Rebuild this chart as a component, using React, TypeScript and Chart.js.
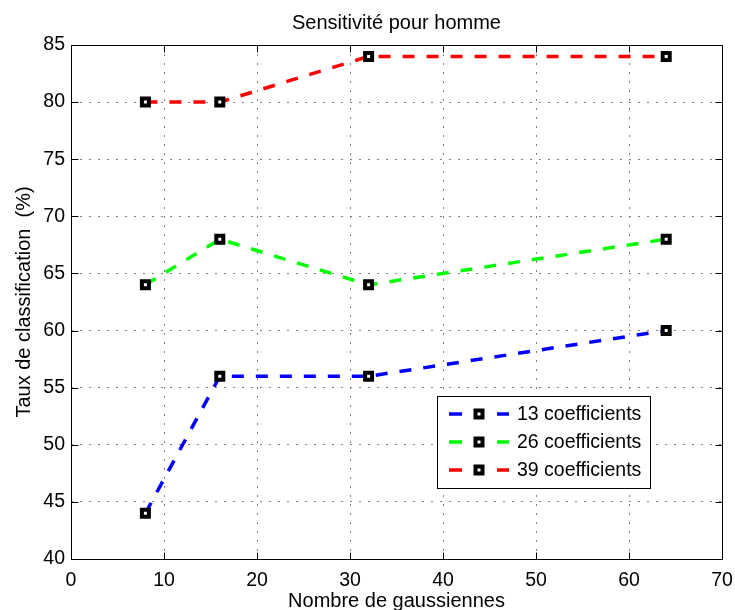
import React, { useEffect, useRef } from "react";
import { Chart, registerables } from "chart.js";

Chart.register(...registerables);

const gaussiennes = [8, 16, 32, 64];
const coef13 = [44, 56, 56, 60];
const coef26 = [64, 68, 64, 68];
const coef39 = [80, 80, 84, 84];
const seriesLabels = ["13 coefficients", "26 coefficients", "39 coefficients"];
const seriesColors = ["#0000ff", "#00ff00", "#ff0000"];
const xTickValues = [0, 10, 20, 30, 40, 50, 60, 70];
const yTickValues = [40, 45, 50, 55, 60, 65, 70, 75, 80, 85];
const chartTitle = "Sensitivité pour homme";
const xTitle = "Nombre de gaussiennes";
const yTitle = "Taux de classification  (%)";

const FONT = '"Liberation Sans", Arial, Helvetica, sans-serif';

function drawMarker(ctx: CanvasRenderingContext2D, x: number, y: number) {
  ctx.save();
  ctx.setLineDash([]);
  ctx.fillStyle = "#ffffff";
  ctx.fillRect(x - 3.5, y - 3.5, 7, 7);
  ctx.strokeStyle = "#000000";
  ctx.lineWidth = 4;
  ctx.strokeRect(x - 3.5, y - 3.5, 7, 7);
  ctx.restore();
}

const matlabPlugin = {
  id: "matlabFrame",
  beforeDraw(chart: any) {
    const ctx = chart.ctx;
    ctx.save();
    ctx.fillStyle = "#ffffff";
    ctx.fillRect(0, 0, chart.width, chart.height);
    ctx.restore();
  },
  afterDraw(chart: any) {
    const ctx: CanvasRenderingContext2D = chart.ctx;
    const { left, right, top, bottom } = chart.chartArea;
    const xs = chart.scales.x;
    const ys = chart.scales.y;
    const L = Math.round(left) + 0.5;
    const R = Math.round(right) + 0.5;
    const T = Math.round(top) + 0.5;
    const B = Math.round(bottom) + 0.5;
    ctx.save();
    ctx.setLineDash([]);
    ctx.strokeStyle = "#000000";
    ctx.lineWidth = 1;
    ctx.strokeRect(L, T, R - L, B - T);
    // inward ticks
    ctx.beginPath();
    xTickValues.forEach((v) => {
      const px = Math.round(xs.getPixelForValue(v)) + 0.5;
      ctx.moveTo(px, B);
      ctx.lineTo(px, B - 7);
      ctx.moveTo(px, T);
      ctx.lineTo(px, T + 7);
    });
    yTickValues.forEach((v) => {
      const py = Math.round(ys.getPixelForValue(v)) + 0.5;
      ctx.moveTo(L, py);
      ctx.lineTo(L + 7, py);
      ctx.moveTo(R, py);
      ctx.lineTo(R - 7, py);
    });
    ctx.stroke();

    // titles
    const cx = (left + right) / 2;
    ctx.fillStyle = "#000000";
    ctx.font = `20px ${FONT}`;
    ctx.textAlign = "center";
    ctx.textBaseline = "alphabetic";
    ctx.fillText(chartTitle, cx, 29);
    ctx.fillText(xTitle, cx, 607);
    ctx.save();
    ctx.translate(30, (top + bottom) / 2);
    ctx.rotate(-Math.PI / 2);
    ctx.fillText(yTitle, 0, 0);
    ctx.restore();

    // legend
    const bx = 437.5, by = 396.5, bw = 213, bh = 92;
    ctx.fillStyle = "#ffffff";
    ctx.fillRect(bx, by, bw, bh);
    ctx.strokeStyle = "#000000";
    ctx.lineWidth = 1;
    ctx.strokeRect(bx, by, bw, bh);
    const rows = [414, 442, 470];
    chart.data.datasets.forEach((ds: any, i: number) => {
      const y = rows[i];
      ctx.strokeStyle = ds.borderColor;
      ctx.lineWidth = 3.5;
      ctx.setLineDash([]);
      ctx.beginPath();
      ctx.moveTo(449, y);
      ctx.lineTo(462, y);
      ctx.moveTo(497, y);
      ctx.lineTo(509, y);
      ctx.stroke();
      drawMarker(ctx, 479, y);
      ctx.fillStyle = "#000000";
      ctx.font = `19.5px ${FONT}`;
      ctx.textAlign = "left";
      ctx.textBaseline = "middle";
      ctx.fillText(ds.label, 517, y + 1);
    });
    ctx.restore();
  },
};

export default function App() {
  const canvasRef = useRef<HTMLCanvasElement | null>(null);

  useEffect(() => {
    if (!canvasRef.current) return;
    const seriesValues = [coef13, coef26, coef39];
    const datasets = seriesValues.map((vals, i) => ({
      label: seriesLabels[i],
      data: gaussiennes.map((g, j) => ({ x: g, y: vals[j] })),
      borderColor: seriesColors[i],
      backgroundColor: seriesColors[i],
      borderWidth: 3.5,
      borderDash: [12, 12],
      fill: false,
      tension: 0,
      pointStyle: "rect",
      pointRadius: 4.95,
      pointBorderWidth: 4,
      pointBackgroundColor: "#ffffff",
      pointBorderColor: "#000000",
      clip: false,
    }));
    const tickFont = { family: FONT, size: 19.5 };
    const chart = new Chart(canvasRef.current, {
      type: "line",
      data: { datasets },
      options: {
        animation: false,
        responsive: false,
        devicePixelRatio: 1,
        layout: { padding: { top: 45, right: 13, left: 0, bottom: 0 } },
        plugins: {
          legend: { display: false },
          title: { display: false },
          tooltip: { enabled: false },
        },
        scales: {
          x: {
            type: "linear",
            min: 0,
            max: 70,
            ticks: { stepSize: 10, color: "#000000", font: tickFont, padding: 10, maxRotation: 0 },
            grid: { color: "#808080", lineWidth: 1, drawTicks: false },
            border: { display: false, dash: [2, 7] },
            afterFit: (s: any) => {
              s.height = 51;
              s.paddingLeft = 0;
              s.paddingRight = 0;
            },
          },
          y: {
            type: "linear",
            min: 40,
            max: 85,
            ticks: { stepSize: 5, color: "#000000", font: tickFont, padding: 6 },
            grid: { color: "#808080", lineWidth: 1, drawTicks: false },
            border: { display: false, dash: [2, 7] },
            afterFit: (s: any) => {
              s.width = 71;
              s.paddingTop = 0;
              s.paddingBottom = 0;
            },
          },
        },
      } as any,
      plugins: [matlabPlugin],
    });
    return () => chart.destroy();
  }, []);

  return (
    <div style={{ position: "absolute", left: 0, top: 0, width: 735, height: 610 }}>
      <canvas ref={canvasRef} width={735} height={610} style={{ display: "block" }} />
    </div>
  );
}
